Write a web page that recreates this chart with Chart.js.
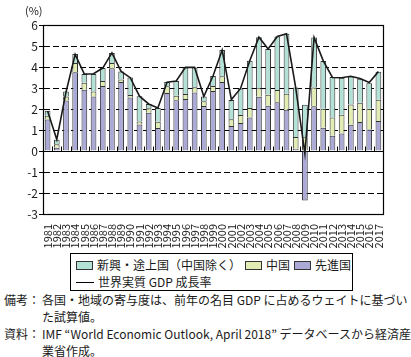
<!DOCTYPE html>
<html><head><meta charset="utf-8">
<script src="https://cdn.jsdelivr.net/npm/chart.js@4/dist/chart.umd.min.js"></script>
<style>
html,body{margin:0;padding:0;background:#fff;}
#wrap{position:relative;width:411px;height:357px;background:#fff;font-family:"Noto Sans CJK JP","Noto Sans",sans-serif;color:#1a1a1a;}
#c{position:absolute;left:0;top:0;}
#pct{position:absolute;left:25px;top:2px;font-size:11px;line-height:16px;}
#legend{position:absolute;left:70px;top:253px;width:281px;height:36px;border:1px solid #000;font-size:12px;}
.row{position:absolute;left:5px;height:16px;line-height:16px;white-space:nowrap;display:flex;align-items:center;}
.sw{display:inline-block;width:17px;height:9px;border:1px solid #333;margin-right:4px;box-sizing:border-box;}
.ln{display:inline-block;width:18px;height:0;border-top:1.5px solid #000;margin-right:4px;}
.item{display:inline-flex;align-items:center;margin-right:4px;}
.note{position:absolute;left:4px;font-size:12px;line-height:17px;white-space:nowrap;}
.note .lab{display:inline-block;width:38px;vertical-align:top;}
.note .txt{display:inline-block;vertical-align:top;}
</style></head>
<body>
<div id="wrap">
<canvas id="c" width="411" height="252"></canvas>
<div id="pct">(%)</div>
<div id="legend"></div>
<div class="note" style="top:291px"><span class="lab">備考：</span><span class="txt">各国・地域の寄与度は、前年の名目 GDP に占めるウェイトに基づい<br>た試算値。</span></div>
<div class="note" style="top:325px"><span class="lab">資料：</span><span class="txt">IMF “World Economic Outlook, April 2018” データベースから経済産<br>業省作成。</span></div>
</div>
<script>
const years = ["1981","1982","1983","1984","1985","1986","1987","1988","1989","1990","1991","1992","1993","1994","1995","1996","1997","1998","1999","2000","2001","2002","2003","2004","2005","2006","2007","2008","2009","2010","2011","2012","2013","2014","2015","2016","2017"];
const advanced = [1.50,0.16,2.40,3.75,2.92,2.60,3.10,3.94,3.29,2.55,1.26,1.82,1.10,2.76,2.42,2.48,2.78,2.14,2.86,3.29,1.19,1.33,1.60,2.58,2.16,2.32,1.97,0.11,-2.36,2.13,1.11,0.73,0.83,1.25,1.38,1.02,1.43];
const china = [0.18,0.16,0.19,0.44,0.33,0.23,0.23,0.25,0.12,0.12,0.15,0.22,0.29,0.32,0.21,0.24,0.25,0.23,0.24,0.27,0.32,0.38,0.45,0.41,0.52,0.59,0.76,0.56,0.65,0.89,0.90,0.86,0.90,0.97,0.92,0.99,1.01];
const emerging = [0.24,0.22,0.24,0.43,0.42,0.84,0.62,0.48,0.38,0.83,1.20,0.20,0.66,0.20,0.70,1.26,0.95,0.22,0.47,1.25,0.92,1.27,2.25,2.43,2.18,2.54,2.85,2.35,1.55,2.38,2.28,1.93,1.76,1.33,1.14,1.22,1.33];
const worldGrowth = [1.90,0.55,2.80,4.60,3.66,3.68,3.95,4.67,3.79,3.49,2.61,2.24,2.05,3.28,3.33,3.98,3.98,2.59,3.57,4.81,2.45,2.98,4.30,5.42,4.86,5.45,5.58,3.02,-0.12,5.40,4.29,3.50,3.49,3.56,3.45,3.26,3.78];
const yTicks = [-3,-2,-1,0,1,2,3,4,5,6];

const labels = {emerging:"新興・途上国（中国除く）", china:"中国", advanced:"先進国", world:"世界実質 GDP 成長率"};
const colors = {emerging:"#b4e1d6", china:"#e2edb3", advanced:"#abaad6", world:"#1a1a1a"};

const frame = {
  id:'frame',
  beforeDatasetsDraw(chart){
    const {ctx, chartArea:a, scales:{x,y}} = chart;
    ctx.save();
    ctx.strokeStyle = '#000'; ctx.lineWidth = 1; ctx.setLineDash([]);
    const y0 = Math.round(y.getPixelForValue(0)) + 0.5;
    ctx.beginPath();
    ctx.moveTo(a.left, y0); ctx.lineTo(a.right, y0);
    ctx.stroke();
    ctx.beginPath();
    for (let i = 0; i <= years.length; i++) {
      const px = Math.round(x.getPixelForValue(i - 0.5)) + 0.5;
      ctx.moveTo(px, y0); ctx.lineTo(px, y0 - 5);
    }
    ctx.stroke();
    ctx.restore();
  },
  afterDraw(chart){
    const {ctx, chartArea:a} = chart;
    ctx.save();
    ctx.strokeStyle = '#000'; ctx.lineWidth = 1.2;
    ctx.strokeRect(Math.round(a.left)+0.5, Math.round(a.top)+0.5, Math.round(a.right-a.left), Math.round(a.bottom-a.top));
    ctx.restore();
  }
};

const FONT = '"Noto Sans CJK JP","Noto Sans",sans-serif';
new Chart(document.getElementById('c'), {
  data: {
    labels: years,
    datasets: [
      {type:'line', label:labels.world, data:worldGrowth, borderColor:colors.world, borderWidth:1.6, pointRadius:0, tension:0, order:0, stack:'line', fill:false},
      {type:'bar', label:labels.advanced, data:advanced, backgroundColor:colors.advanced, borderColor:'#333', borderWidth:1, stack:'s', order:1, barPercentage:0.62, categoryPercentage:1},
      {type:'bar', label:labels.china, data:china, backgroundColor:colors.china, borderColor:'#333', borderWidth:1, stack:'s', order:1, barPercentage:0.62, categoryPercentage:1},
      {type:'bar', label:labels.emerging, data:emerging, backgroundColor:colors.emerging, borderColor:'#333', borderWidth:1, stack:'s', order:1, barPercentage:0.62, categoryPercentage:1}
    ]
  },
  options: {
    responsive:false, animation:false, devicePixelRatio:1,
    layout:{padding:{left:0,right:28,top:25,bottom:0}},
    plugins:{legend:{display:false}, tooltip:{enabled:false}},
    scales:{
      x:{stacked:true, offset:true,
        grid:{display:false},
        border:{display:true,color:'#000'},
        ticks:{autoSkip:false, maxRotation:90, minRotation:90, padding:2, color:'#1a1a1a', font:{family:FONT, size:11}},
        afterFit(s){ s.height = 38; }
      },
      y:{stacked:true, min:-3, max:6,
        afterBuildTicks(s){ s.ticks = yTicks.map(v=>({value:v})); },
        grid:{color:(c)=> (c.tick && (c.tick.value===0||c.tick.value===6||c.tick.value===-3)) ? 'rgba(0,0,0,0)' : '#000', lineWidth:1, tickColor:'#000', tickLength:4, drawTicks:true},
        border:{display:true, color:'#000', dash:[6,3]},
        ticks:{padding:1, color:'#1a1a1a', font:{family:FONT, size:12}},
        afterFit(s){ s.width = 43; }
      }
    }
  },
  plugins:[frame]
});

const lg = document.getElementById('legend');
const r1 = document.createElement('div'); r1.className='row'; r1.style.top='3px';
['emerging','china','advanced'].forEach((k)=>{
  const it = document.createElement('span'); it.className='item';
  it.innerHTML = '<span class="sw" style="background:'+colors[k]+'"></span>'+labels[k];
  r1.appendChild(it);
});
const r2 = document.createElement('div'); r2.className='row'; r2.style.top='20px';
r2.innerHTML = '<span class="ln"></span>'+labels.world;
lg.appendChild(r1); lg.appendChild(r2);
</script>
</body></html>
